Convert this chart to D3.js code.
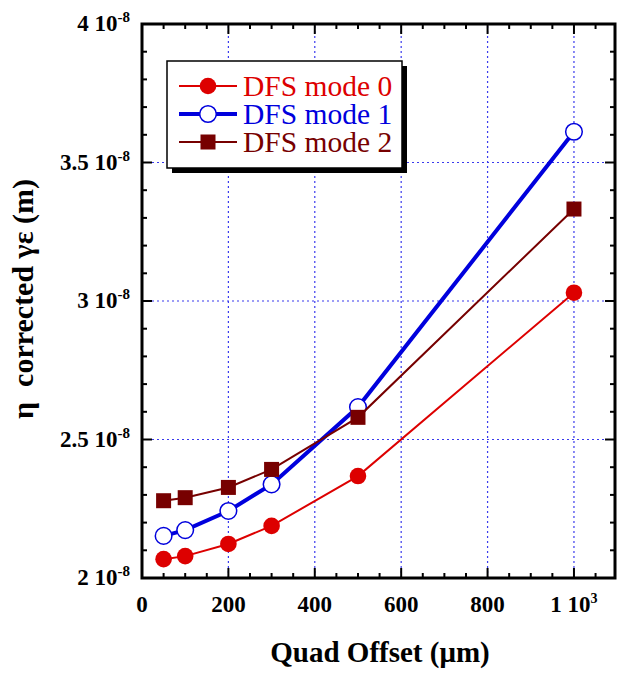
<!DOCTYPE html>
<html>
<head>
<meta charset="utf-8">
<script src="https://cdnjs.cloudflare.com/ajax/libs/d3/7.8.5/d3.min.js"></script>
<style>
  body { margin: 0; background: #fff; }
  svg { display: block; }
</style>
</head>
<body>
<svg width="617" height="678"></svg>
<script>
// quad offset in um, emittance in units of 1e-8 m
const offsets = [50, 100, 200, 300, 500, 1000];
const mode0 = [2.068, 2.079, 2.123, 2.188, 2.368, 3.030];
const mode1 = [2.152, 2.173, 2.242, 2.338, 2.617, 3.611];
const mode2 = [2.279, 2.290, 2.327, 2.392, 2.580, 3.332];
const seriesNames = ['DFS mode 0', 'DFS mode 1', 'DFS mode 2'];

const xTicks = [0, 200, 400, 600, 800, 1000];
const xTickLabels = ['0', '200', '400', '600', '800', '1 10'];
const xTickSups = ['', '', '', '', '', '3'];
const yTicks = [2, 2.5, 3, 3.5, 4];
const yTickLabels = ['2 10', '2.5 10', '3 10', '3.5 10', '4 10'];
const yTickSup = '-8';
const xGrid = [200, 400, 600, 800, 1000];
const yGrid = [2.5, 3, 3.5];

const serif = 'Liberation Serif';
const $svg = d3.select('svg').attr('font-family', serif);

const x = d3.scaleLinear().domain([0, 1095]).range([142, 615]);
const y = d3.scaleLinear().domain([2, 4]).range([578, 24]);

/*
 * grid
 */
const grid = $svg.append('g')
  .attr('stroke', '#3a3aee')
  .attr('stroke-width', 1.2)
  .attr('stroke-dasharray', '2,3');
grid.selectAll('.gx').data(xGrid).enter()
  .append('line')
    .attr('x1', d => x(d)).attr('x2', d => x(d))
    .attr('y1', y(2)).attr('y2', y(4));
grid.selectAll('.gy').data(yGrid).enter()
  .append('line')
    .attr('x1', x(0)).attr('x2', x(1095))
    .attr('y1', d => y(d)).attr('y2', d => y(d));

/*
 * ticks (inward, all four sides)
 */
const xMinor = d3.range(0, 1095, 50);
const yMinor = d3.range(2, 4.001, 0.1);
function isMajorX(d) { return d % 200 === 0; }
function isMajorY(d) { return Math.abs(d * 2 - Math.round(d * 2)) < 1e-6; }

const ticks = $svg.append('g').attr('stroke', '#000').attr('stroke-width', 2);
[y(2), y(4)].forEach(function(base, i) {
  const dir = i === 0 ? -1 : 1;
  ticks.selectAll(null).data(xMinor).enter()
    .append('line')
      .attr('x1', d => x(d)).attr('x2', d => x(d))
      .attr('y1', base)
      .attr('y2', d => base + dir * (isMajorX(d) ? 10 : 5));
});
[x(0), x(1095)].forEach(function(base, i) {
  const dir = i === 0 ? 1 : -1;
  ticks.selectAll(null).data(yMinor).enter()
    .append('line')
      .attr('y1', d => y(d)).attr('y2', d => y(d))
      .attr('x1', base)
      .attr('x2', d => base + dir * (isMajorY(d) ? 10 : 5));
});

/*
 * series
 */
const series = [
  {name: seriesNames[0], values: mode0, color: '#dd0000', width: 2, marker: 'dot'},
  {name: seriesNames[1], values: mode1, color: '#0000dd', width: 4, marker: 'ring'},
  {name: seriesNames[2], values: mode2, color: '#770000', width: 2, marker: 'square'}
];

const line = d3.line()
  .x(d => x(d[0]))
  .y(d => y(d[1]));

function drawMarker(g, kind, color) {
  if (kind === 'square') {
    g.append('rect')
      .attr('x', -7.5).attr('y', -7.5)
      .attr('width', 15).attr('height', 15)
      .attr('fill', color);
  } else {
    g.append('circle')
      .attr('r', 8.3)
      .attr('fill', kind === 'ring' ? '#fff' : color)
      .attr('stroke', color)
      .attr('stroke-width', kind === 'ring' ? 1.5 : 0);
  }
}

series.forEach(function(s) {
  const pts = offsets.map((o, i) => [o, s.values[i]]);
  $svg.append('path')
    .attr('d', line(pts))
    .attr('fill', 'none')
    .attr('stroke', s.color)
    .attr('stroke-width', s.width);
  pts.forEach(function(p) {
    const g = $svg.append('g')
      .attr('transform', 'translate(' + x(p[0]) + ',' + y(p[1]) + ')');
    drawMarker(g, s.marker, s.color);
  });
});

/*
 * frame
 */
$svg.append('rect')
  .attr('x', x(0)).attr('y', y(4))
  .attr('width', x(1095) - x(0))
  .attr('height', y(2) - y(4))
  .attr('fill', 'none')
  .attr('stroke', '#000')
  .attr('stroke-width', 3);

/*
 * legend
 */
const lg = $svg.append('g').attr('transform', 'translate(167,61)');
lg.append('rect')
  .attr('x', 5).attr('y', 5).attr('width', 235).attr('height', 107)
  .attr('fill', '#000');
lg.append('rect')
  .attr('width', 235).attr('height', 107)
  .attr('fill', '#fff').attr('stroke', '#000').attr('stroke-width', 1.5);
series.forEach(function(s, i) {
  const row = lg.append('g').attr('transform', 'translate(0,' + (25 + i * 28) + ')');
  row.append('line')
    .attr('x1', 12).attr('x2', 70)
    .attr('stroke', s.color).attr('stroke-width', s.width);
  const m = row.append('g').attr('transform', 'translate(41,0)');
  drawMarker(m, s.marker, s.color);
  row.append('text')
    .attr('x', 76).attr('y', 10)
    .attr('font-size', 29.5)
    .attr('fill', s.color)
    .text(s.name);
});

/*
 * tick labels
 */
const xl = $svg.append('g')
  .attr('font-size', 23).attr('font-weight', 'bold')
  .attr('text-anchor', 'middle');
xTicks.forEach(function(t, i) {
  const txt = xl.append('text').attr('x', x(t)).attr('y', 612);
  txt.append('tspan').text(xTickLabels[i]);
  if (xTickSups[i]) {
    txt.append('tspan').attr('font-size', 14).attr('dy', -9).text(xTickSups[i]);
  }
});

const yl = $svg.append('g')
  .attr('font-size', 23).attr('font-weight', 'bold')
  .attr('text-anchor', 'end');
yTicks.forEach(function(t, i) {
  const txt = yl.append('text').attr('x', 130).attr('y', y(t) + 7);
  txt.append('tspan').text(yTickLabels[i]);
  txt.append('tspan').attr('font-size', 15).attr('dy', -9).text(yTickSup);
});

/*
 * axis titles
 */
$svg.append('text')
  .attr('x', 380).attr('y', 662)
  .attr('text-anchor', 'middle')
  .attr('font-size', 29).attr('font-weight', 'bold')
  .text('Quad Offset (\u03bcm)');

$svg.append('text')
  .attr('transform', 'translate(33,299) rotate(-90)')
  .attr('text-anchor', 'middle')
  .attr('font-size', 30).attr('font-weight', 'bold')
  .text('\u03b7\u00a0\u00a0corrected \u03b3\u03b5 (m)');
</script>
</body>
</html>
